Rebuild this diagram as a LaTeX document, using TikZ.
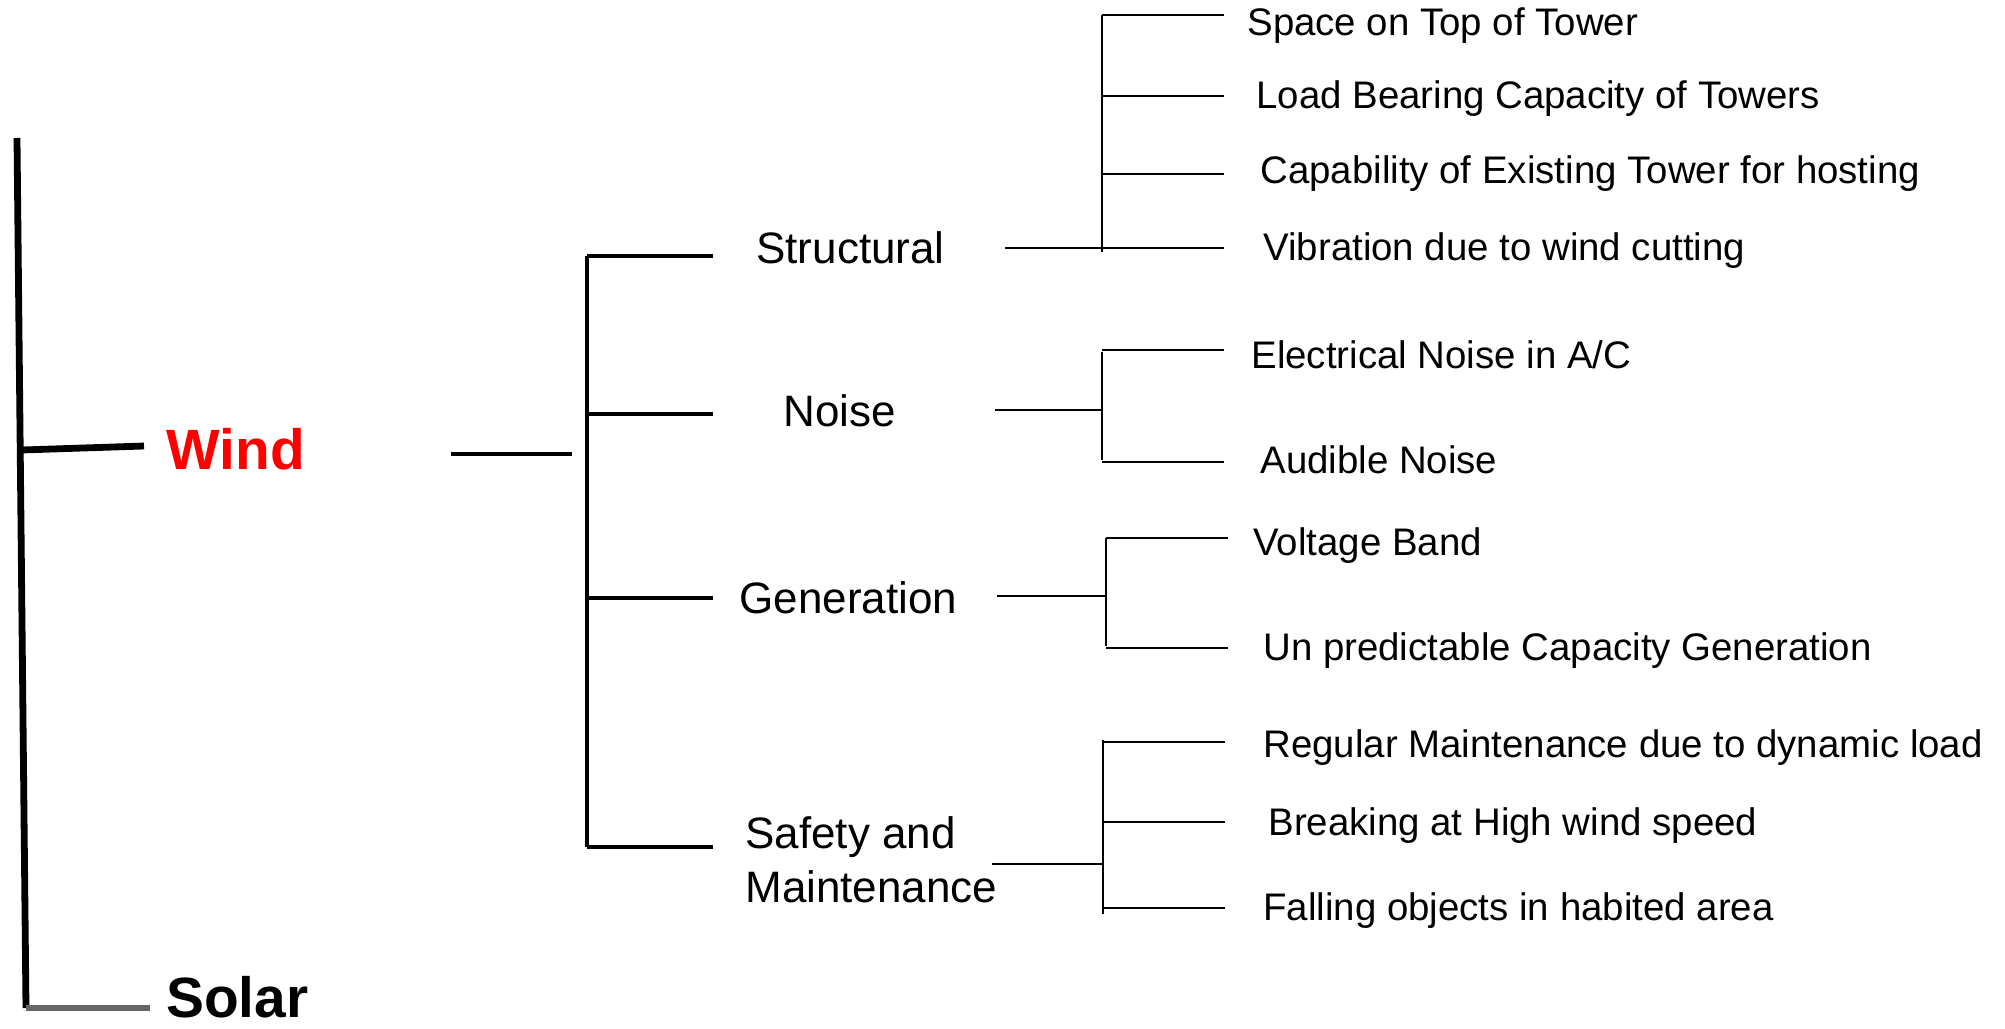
\documentclass[tikz,border=0pt]{standalone}
\usepackage{fontspec}
\setmainfont{Liberation Sans}
\usetikzlibrary{calc}
\tikzstyle{leaf}=[anchor=base west,inner sep=0pt,font=\fontsize{19.2}{23}\selectfont]
\tikzstyle{topic}=[anchor=base west,inner sep=0pt,font=\fontsize{22}{27}\selectfont]
\tikzstyle{source}=[anchor=base west,inner sep=0pt,font=\fontsize{28.4}{34}\selectfont\bfseries]
\tikzstyle{trunk} = [draw,line width=3.4pt]
\tikzstyle{branch} = [draw,line width=2.2pt]
\tikzstyle{twig} = [draw,line width=1.2pt]

\begin{document}
\begin{tikzpicture}[x=0.5pt,y=-0.5pt]
    \useasboundingbox (0,0) rectangle (2005,1028);

    % main stem with the two sources
    \node[source,red] (wind) at (166,469) {Wind};
    \node[source] (solar) at (166,1017) {Solar};
    \coordinate (stemtop) at (17,138);
    \coordinate (stembot) at (26,1008);
    \coordinate (windj) at (22,450);
    \coordinate (windt) at (144,446);
    \coordinate (solart) at (150,1008);
    \draw[trunk] (stemtop) -- (stembot);
    \draw[trunk] (windj) -- (windt);
    \draw[trunk,black!60] (stembot) -- (solart);

    % wind link and topic bracket
    \coordinate (linka) at (451,454);
    \coordinate (linkb) at (572,454);
    \draw[branch] (linka) -- (linkb);
    \coordinate (bt) at (587,256);
    \coordinate (bb) at (587,847);
    \draw[branch] (bt) -- (bb);

    \foreach \x/\y/\ty/\name/\txt in {756/263/256/struct/Structural, 783/426/414/noise/Noise, 739/613/598/gen/Generation}
    {
        \node[topic] (\name) at (\x,\y) {\txt};
        \coordinate (\name-in) at (587,\ty);
        \coordinate (\name-out) at (713,\ty);
        \draw[branch] (\name-in) -- (\name-out);
    }
    \node[topic,align=left] (safe) at (745,902) {Safety and\\Maintenance};
    \coordinate (safe-in) at (587,847);
    \coordinate (safe-out) at (713,847);
    \draw[branch] (safe-in) -- (safe-out);

    % sub brackets: topic / link start / y / bracket x / top / bottom
    \foreach \name/\lx/\ly/\bx/\top/\bot in {struct/1005/248/1102/15/252, noise/995/410/1102/352/460, gen/997/596/1106/538/646, safe/992/864/1103/740/914}
    {
        \coordinate (\name-a) at (\lx,\ly);
        \coordinate (\name-b) at (\bx,\ly);
        \coordinate (\name-top) at (\bx,\top);
        \coordinate (\name-bot) at (\bx,\bot);
        \draw[twig] (\name-a) -- (\name-b);
        \draw[twig] (\name-top) -- (\name-bot);
    }

    % leaves: bracket x / tick y / text x / text y
    \foreach \bx/\ty/\x/\y/\name/\txt in {
        1102/15/1247/35/l1/Space on Top of Tower,
        1102/96/1256/108/l2/Load Bearing Capacity of Towers,
        1102/174/1260/183/l3/Capability of Existing Tower for hosting,
        1102/248/1263/260/l4/Vibration due to wind cutting,
        1102/350/1251/368/l5/{Electrical Noise in A/C},
        1102/462/1260/473/l6/Audible Noise,
        1106/538/1253/555/l7/Voltage Band,
        1106/648/1263/660/l8/Un predictable Capacity Generation,
        1103/742/1263/757/l9/Regular Maintenance due to dynamic load,
        1103/822/1268/835/l10/Breaking at High wind speed,
        1103/908/1263/920/l11/Falling objects in habited area}
    {
        \node[leaf] (\name) at (\x,\y) {\txt};
        \coordinate (\name-j) at (\bx,\ty);
        \coordinate (\name-t) at (\bx+122,\ty);
        \draw[twig] (\name-j) -- (\name-t);
    }

\end{tikzpicture}
\end{document}
